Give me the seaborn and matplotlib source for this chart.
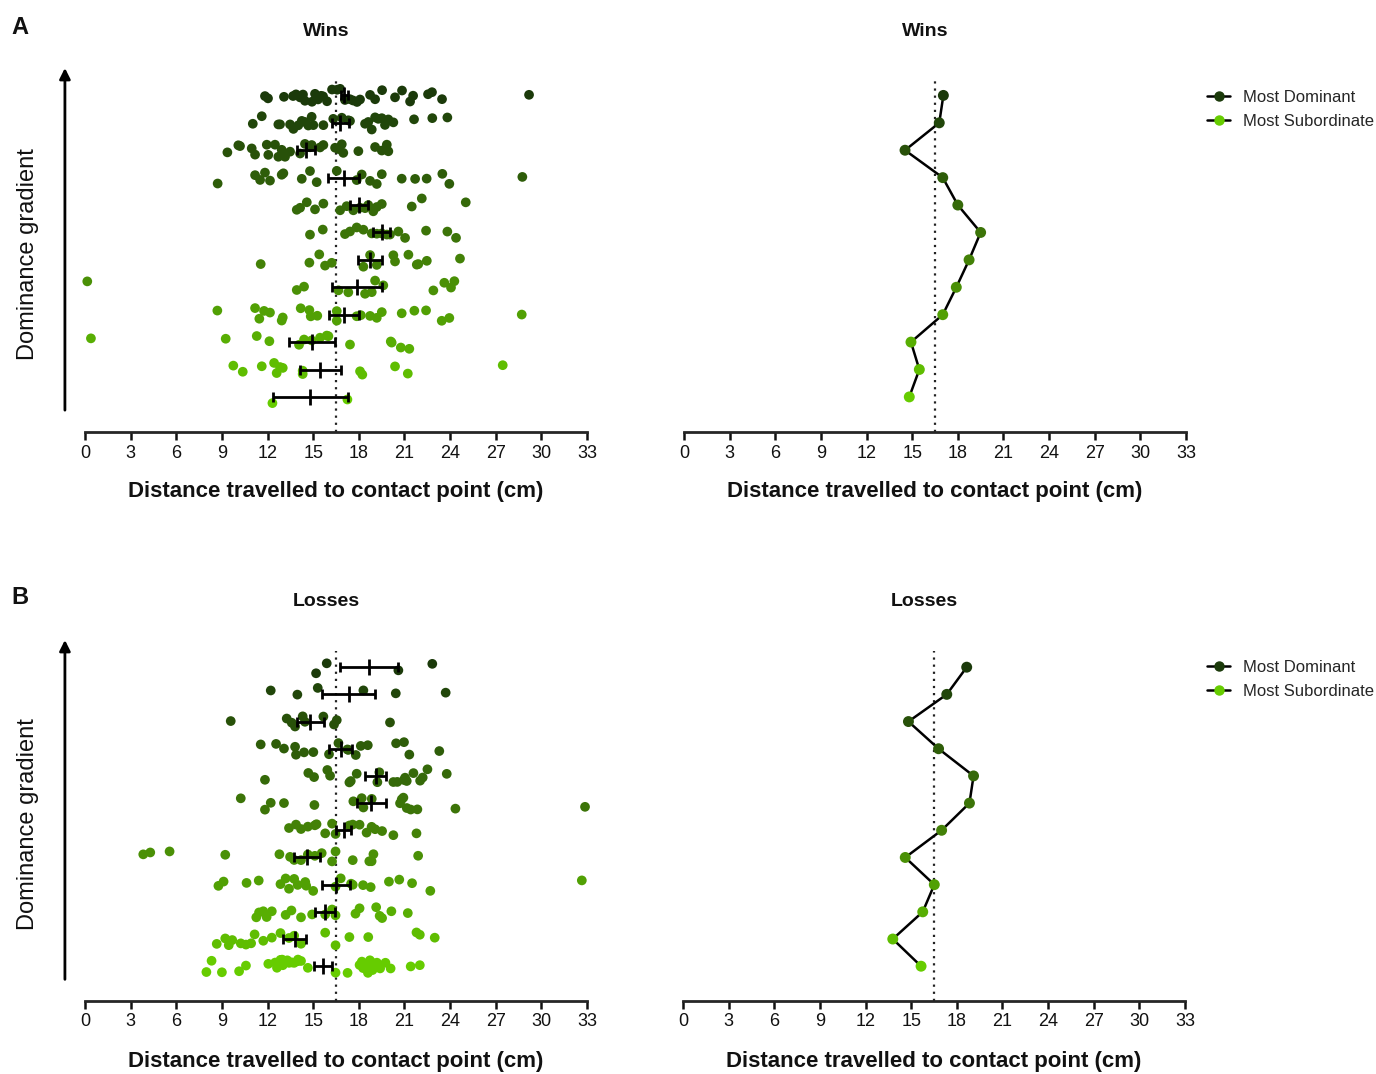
import numpy as np
import pandas as pd
import matplotlib
matplotlib.use("Agg")
import matplotlib.pyplot as plt
from matplotlib.lines import Line2D
import seaborn as sns

# ---------------------------------------------------------------------------
# Distance travelled to contact point (cm), per dominance rank
# rank 1 = most dominant ... rank 12 = most subordinate
# ---------------------------------------------------------------------------
ranks = [str(i) for i in range(1, 13)]

# Wins
wins_rank1 = [11.83, 12.03, 13.08, 13.68, 13.87, 14.14, 14.33, 14.46, 14.92, 15.12, 15.32,
              15.52, 15.65, 15.91, 16.24, 16.57, 16.77, 17.09, 17.42, 17.62, 17.88, 18.08,
              18.74, 19.07, 19.53, 20.38, 20.84, 21.37, 21.57, 22.55, 22.81, 23.47, 29.19]
wins_rank2 = [11.03, 11.62, 12.71, 12.82, 13.48, 13.70, 14.02, 14.25, 14.46, 14.68, 14.90,
              15.01, 15.67, 16.32, 16.88, 17.31, 17.42, 18.41, 18.62, 18.85, 19.07, 19.28,
              19.51, 19.72, 19.94, 20.27, 21.63, 22.83, 23.82]
wins_rank3 = [9.36, 10.08, 10.19, 10.96, 11.18, 11.95, 12.05, 12.49, 12.71, 12.93, 13.15,
              13.48, 14.14, 14.46, 14.79, 14.90, 15.45, 15.67, 16.44, 16.66, 16.88, 16.98,
              17.97, 19.07, 19.51, 19.84, 19.94]
wins_rank4 = [8.72, 11.18, 11.51, 11.83, 12.16, 12.93, 13.04, 14.25, 14.79, 15.23, 16.55,
              17.86, 18.19, 18.74, 19.18, 19.51, 20.82, 21.70, 22.46, 23.49, 23.95, 28.75]
wins_rank5 = [13.92, 14.14, 14.58, 15.12, 15.67, 16.77, 17.20, 17.64, 18.08, 18.41, 18.62,
              18.95, 19.18, 19.51, 21.48, 22.14, 25.03]
wins_rank6 = [14.79, 15.63, 17.09, 17.42, 17.86, 18.30, 18.85, 19.18, 19.51, 19.84, 20.05,
              20.60, 21.04, 22.42, 23.82, 24.39]
wins_rank7 = [11.55, 14.75, 15.40, 15.78, 16.22, 18.30, 18.74, 19.18, 20.27, 20.38, 21.26,
              21.81, 21.91, 22.47, 24.65]
wins_rank8 = [0.15, 13.92, 14.40, 16.66, 17.31, 18.41, 18.85, 19.07, 19.61, 22.90, 23.62,
              24.06, 24.28]
wins_rank9 = [8.70, 11.18, 11.46, 11.77, 12.16, 12.93, 13.00, 14.18, 14.75, 14.84, 15.27,
              16.55, 16.55, 17.86, 18.13, 18.74, 19.18, 19.51, 20.82, 21.65, 22.42, 23.45,
              23.95, 28.71]
wins_rank10 = [0.39, 9.25, 11.29, 12.12, 14.40, 14.07, 14.90, 15.45, 15.89, 16.00, 17.42,
               20.10, 20.16, 20.76, 21.32]
wins_rank11 = [9.75, 10.37, 11.62, 12.43, 12.60, 12.82, 13.00, 14.31, 14.31, 18.08, 18.23,
               20.38, 21.22, 27.46]
wins_rank12 = [12.32, 17.25]

wins_mean = [17.05, 16.78, 14.53, 17.01, 18.00, 19.50, 18.74, 17.90, 17.01, 14.92, 15.47, 14.81]
wins_sem = [0.25, 0.55, 0.57, 1.02, 0.61, 0.55, 0.80, 1.64, 1.00, 1.49, 1.34, 2.47]

# Losses
losses_rank1 = [15.89, 15.19, 20.60, 22.83]
losses_rank2 = [12.21, 13.96, 15.30, 18.30, 20.43, 23.71]
losses_rank3 = [9.58, 13.26, 13.59, 13.81, 14.31, 14.46, 15.67, 16.37, 16.55, 20.05]
losses_rank4 = [11.55, 12.56, 13.08, 13.81, 13.87, 14.40, 15.01, 16.04, 16.66, 17.25, 17.31,
                17.80, 18.13, 18.59, 20.45, 20.97, 21.32, 23.29]
losses_rank5 = [11.83, 14.68, 15.06, 15.93, 16.11, 17.38, 17.47, 17.86, 19.22, 19.35, 20.27,
                20.53, 20.97, 21.04, 21.15, 21.59, 22.03, 22.20, 22.51, 23.78]
losses_rank6 = [10.24, 11.83, 12.21, 13.08, 15.08, 17.64, 18.19, 18.30, 18.85, 20.71, 20.82,
                20.93, 21.15, 21.41, 21.85, 24.35, 32.87]
losses_rank7 = [13.41, 13.87, 14.20, 14.65, 15.11, 15.22, 15.79, 16.24, 16.47, 17.38, 17.60,
                18.05, 18.51, 18.84, 19.07, 19.53, 20.27, 21.79]
losses_rank8 = [3.83, 4.29, 5.56, 9.22, 12.78, 13.48, 13.75, 14.20, 14.65, 15.11, 15.56,
                16.24, 16.47, 17.60, 18.69, 18.84, 18.96, 21.90]
losses_rank9 = [8.77, 9.11, 10.62, 11.42, 12.85, 13.19, 13.41, 13.75, 13.98, 14.48, 14.54,
                15.00, 16.47, 16.81, 17.49, 17.60, 18.28, 18.78, 19.98, 20.66, 21.50, 22.70,
                32.66]
losses_rank10 = [11.26, 11.44, 11.72, 11.94, 12.28, 13.19, 13.57, 14.20, 14.93, 15.79, 16.24,
                 16.47, 17.78, 18.05, 19.14, 19.37, 19.53, 20.14, 21.22]
losses_rank11 = [8.66, 9.22, 9.45, 9.68, 10.24, 10.58, 10.92, 11.15, 11.72, 12.28, 12.85,
                 13.41, 13.75, 14.20, 15.79, 16.47, 17.38, 18.62, 21.79, 22.01, 22.99]
losses_rank12 = [7.98, 8.32, 9.00, 10.13, 10.58, 12.05, 12.50, 12.62, 12.85, 12.96, 13.00,
                 13.30, 13.41, 13.60, 13.75, 13.98, 14.00, 14.20, 14.65, 16.47, 17.26, 18.05,
                 18.20, 18.28, 18.51, 18.60, 18.73, 18.90, 18.96, 19.19, 19.40, 19.75, 20.09,
                 21.41, 22.01]

losses_mean = [18.65, 17.34, 14.82, 16.80, 19.10, 18.83, 17.00, 14.61, 16.52, 15.76, 13.79, 15.65]
losses_sem = [1.91, 1.75, 0.88, 0.75, 0.68, 0.95, 0.48, 0.86, 0.93, 0.65, 0.76, 0.59]

reference_line = 16.5
x_ticks = list(range(0, 34, 3))

wins_groups = [wins_rank1, wins_rank2, wins_rank3, wins_rank4, wins_rank5, wins_rank6,
               wins_rank7, wins_rank8, wins_rank9, wins_rank10, wins_rank11, wins_rank12]
losses_groups = [losses_rank1, losses_rank2, losses_rank3, losses_rank4, losses_rank5,
                 losses_rank6, losses_rank7, losses_rank8, losses_rank9, losses_rank10,
                 losses_rank11, losses_rank12]


def to_long(groups):
    rows = []
    for rank, vals in zip(ranks, groups):
        rows.extend({"rank": rank, "distance": v} for v in vals)
    return pd.DataFrame(rows)


wins_df = to_long(wins_groups)
losses_df = to_long(losses_groups)

# ---------------------------------------------------------------------------
sns.set_theme(style="white")
plt.rcParams["font.family"] = ["Liberation Sans", "DejaVu Sans"]
plt.rcParams["axes.linewidth"] = 2.0

# fixed seed so the strip jitter is reproducible
np.random.seed(0)

palette = sns.blend_palette(["#1b3a0a", "#3f7a08", "#66cc00"], 12)
pal_map = dict(zip(ranks, palette))

W, H = 1376, 1074
fig = plt.figure(figsize=(W / 100, H / 100), dpi=100)


def px_axes(left, top, right, bottom):
    return fig.add_axes([left / W, 1 - bottom / H, (right - left) / W, (bottom - top) / H])


Y_LIM = (12.28, -1.0)


def style_x(ax, label_y):
    ax.set_xlim(0, 33)
    ax.set_ylim(*Y_LIM)
    ax.set_xticks(x_ticks)
    ax.set_yticks([])
    for s in ("top", "right", "left"):
        ax.spines[s].set_visible(False)
    ax.spines["bottom"].set_linewidth(2.0)
    ax.tick_params(axis="x", direction="out", length=6, width=1.8, pad=3,
                   labelsize=13, colors="#111111", bottom=True)
    ax.set_xlabel("Distance travelled to contact point (cm)", fontsize=16,
                  fontweight="bold", color="#111111", va="center")
    ax.xaxis.set_label_coords(0.5, label_y)
    ax.set_ylabel("")
    ax.vlines(reference_line, Y_LIM[0], -0.6, colors="#222222",
              linestyles=(0, (1, 2.2)), linewidth=1.6, zorder=1)


def strip_panel(ax, df, means, sems, label_y):
    sns.stripplot(data=df, x="distance", y="rank", hue="rank", order=ranks,
                  hue_order=ranks, palette=pal_map, jitter=0.25, size=7,
                  linewidth=0, legend=False, ax=ax, orient="h", zorder=2)
    for coll in ax.collections:
        coll.set_clip_on(False)
    idx = np.arange(len(ranks))
    ax.errorbar(means, idx, xerr=sems, fmt="|", color="black", ecolor="black",
                markersize=12, mew=2, elinewidth=2, capsize=3.5, capthick=2, zorder=4)
    style_x(ax, label_y)
    ax.annotate("", xy=(-0.04, 1.0), xytext=(-0.04, 0.06), xycoords="axes fraction",
                arrowprops=dict(arrowstyle="-|>", lw=2.0, color="black",
                                mutation_scale=16, shrinkA=0, shrinkB=0))


def mean_panel(ax, means, label_y):
    idx = np.arange(len(ranks))
    sns.lineplot(x=means, y=idx, sort=False, color="black", linewidth=1.8,
                 ax=ax, zorder=2, orient="y")
    sns.scatterplot(x=means, y=idx, hue=ranks, hue_order=ranks, palette=pal_map,
                    s=62, linewidth=0, legend=False, ax=ax, zorder=3)
    style_x(ax, label_y)
    handles = [
        Line2D([0], [0], color="black", lw=1.8, marker="o", markersize=6.5,
               markerfacecolor=palette[0], markeredgecolor=palette[0]),
        Line2D([0], [0], color="black", lw=1.8, marker="o", markersize=6.5,
               markerfacecolor=palette[-1], markeredgecolor=palette[-1]),
    ]
    return handles


ax_a1 = px_axes(85, 68, 587, 432)
ax_a2 = px_axes(684, 68, 1186, 432)
ax_b1 = px_axes(85, 640, 587, 1001)
ax_b2 = px_axes(683, 640, 1185, 1001)

strip_panel(ax_a1, wins_df, wins_mean, wins_sem, -(492 - 432) / 364)
strip_panel(ax_b1, losses_df, losses_mean, losses_sem, -(1062 - 1001) / 361)
h_a = mean_panel(ax_a2, wins_mean, -(492 - 432) / 364)
h_b = mean_panel(ax_b2, losses_mean, -(1062 - 1001) / 361)

for ax, handles, top in ((ax_a2, h_a, 90), (ax_b2, h_b, 660)):
    ax.legend(handles, ["Most Dominant", "Most Subordinate"], loc="upper left",
              bbox_to_anchor=(1207 / W, 1 - top / H), bbox_transform=fig.transFigure,
              frameon=False, fontsize=12, handlelength=1.4, handletextpad=0.75,
              labelspacing=0.55, borderpad=0, borderaxespad=0)

# titles, panel letters and y labels
for x, y, t in ((326, 31, "Wins"), (925, 31, "Wins"), (326, 602, "Losses"), (924, 602, "Losses")):
    fig.text(x / W, 1 - y / H, t, ha="center", va="center", fontsize=14,
             fontweight="bold", color="#111111")
for y, t in ((27, "A"), (598, "B")):
    fig.text(20 / W, 1 - y / H, t, ha="center", va="center", fontsize=17,
             fontweight="bold", color="#111111")
for y in (254, 824):
    fig.text(28 / W, 1 - y / H, "Dominance gradient", ha="center", va="center",
             rotation=90, fontsize=17, color="#111111")

fig.savefig("out.png", dpi=100)
